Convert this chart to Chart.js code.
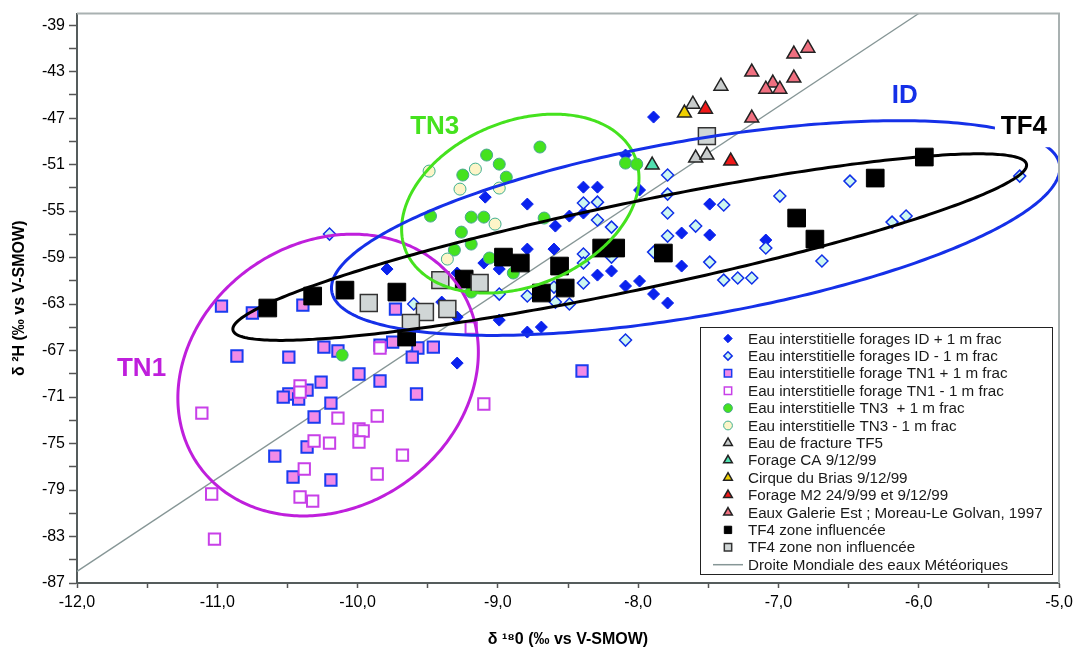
<!DOCTYPE html>
<html>
<head>
<meta charset="utf-8">
<title>δ2H / δ18O</title>
<script src="https://cdn.jsdelivr.net/npm/chart.js@4.4.1/dist/chart.umd.min.js"></script>
<style>
    html, body { margin: 0; padding: 0; background: #fff; }
</style>
</head>
<body>
<canvas id="myChart" width="1075" height="650"></canvas>
<script>
// axis ticks
var xMajorTicks = [-12, -11, -10, -9, -8, -7, -6, -5]
var xTickLabels = ['-12,0', '-11,0', '-10,0', '-9,0', '-8,0', '-7,0', '-6,0', '-5,0']
var yMajorTicks = [-87, -83, -79, -75, -71, -67, -63, -59, -55, -51, -47, -43, -39]
var yTickLabels = ['-87', '-83', '-79', '-75', '-71', '-67', '-63', '-59', '-55', '-51', '-47', '-43', '-39']

// series values [d18O, d2H]
var idPlus = [
    [-7.89, -46.91], [-8.09, -50.18], [-8.39, -52.94], [-8.29, -52.94], [-9.09, -53.80], [-8.79, -54.40], [-7.99, -53.19],
    [-8.59, -56.29], [-8.49, -55.43], [-8.39, -55.17], [-8.79, -58.27], [-8.60, -58.27], [-9.10, -59.47], [-8.99, -59.99],
    [-9.79, -59.99], [-9.29, -60.33], [-8.29, -60.51], [-8.19, -60.16], [-8.09, -61.45], [-7.99, -61.02], [-7.89, -62.14],
    [-7.79, -62.91], [-7.49, -54.40], [-7.69, -56.89], [-7.49, -57.06], [-7.09, -57.49], [-7.69, -59.73], [-9.40, -62.83],
    [-9.29, -64.12], [-8.99, -64.38], [-8.79, -65.41], [-8.69, -64.98], [-9.29, -68.08]
]
var idMinus = [
    [-10.20, -56.98], [-7.79, -51.90], [-7.79, -53.54], [-7.79, -55.17], [-8.39, -54.31], [-8.29, -54.23], [-8.29, -55.77],
    [-8.19, -56.38], [-7.59, -56.29], [-7.79, -57.15], [-7.39, -54.48], [-6.99, -53.71], [-6.49, -52.42], [-5.28, -51.99],
    [-6.19, -55.95], [-6.09, -55.43], [-7.09, -58.18], [-7.49, -59.39], [-7.39, -60.94], [-7.29, -60.76], [-7.19, -60.76],
    [-6.69, -59.30], [-8.39, -58.70], [-8.39, -59.47], [-8.19, -58.96], [-7.89, -58.53], [-8.39, -61.19], [-8.60, -61.54],
    [-8.59, -62.83], [-8.49, -63.00], [-8.99, -62.14], [-8.79, -62.31], [-9.60, -63.00], [-8.09, -66.10]
]
var tn1Plus = [
    [-10.97, -63.17], [-10.75, -63.77], [-10.39, -63.09], [-9.73, -63.43], [-10.86, -67.47], [-10.49, -67.56], [-10.24, -66.70],
    [-10.14, -67.04], [-9.84, -66.53], [-9.75, -66.27], [-9.57, -66.78], [-9.46, -66.70], [-9.61, -67.56], [-9.99, -69.02],
    [-9.84, -69.62], [-10.26, -69.71], [-9.58, -70.74], [-10.36, -70.40], [-10.49, -70.74], [-10.53, -71.00], [-10.42, -71.17],
    [-10.19, -71.52], [-10.31, -72.72], [-10.36, -75.30], [-10.59, -76.08], [-10.46, -77.88], [-10.19, -78.14], [-8.40, -68.76]
]
var tn1Minus = [
    [-9.84, -66.78], [-10.41, -70.05], [-10.41, -70.57], [-11.11, -72.38], [-10.14, -72.81], [-9.86, -72.63], [-9.99, -73.75],
    [-9.96, -73.92], [-9.99, -74.87], [-10.20, -74.96], [-10.31, -74.78], [-9.68, -75.99], [-10.38, -77.19], [-9.86, -77.62],
    [-11.04, -79.34], [-10.41, -79.60], [-10.32, -79.95], [-11.02, -83.22], [-9.19, -65.06], [-9.10, -71.60]
]
var tn3Plus = [
    [-8.70, -49.49], [-9.08, -50.18], [-8.99, -50.96], [-9.25, -51.90], [-8.94, -52.08], [-9.48, -55.43], [-9.19, -55.52],
    [-9.10, -55.52], [-8.67, -55.60], [-9.26, -56.81], [-9.19, -57.84], [-9.31, -58.35], [-9.06, -59.04], [-8.89, -60.33],
    [-8.09, -50.87], [-8.01, -50.96], [-10.11, -67.39], [-9.19, -61.97]
]
var tn3Minus = [[-9.49, -51.56], [-9.16, -51.39], [-9.27, -53.11], [-8.99, -53.02], [-9.02, -56.12], [-9.36, -59.13]]
var tf5 = [[-7.41, -44.25], [-7.61, -45.80], [-7.59, -50.44], [-7.51, -50.18]]
var forageCA = [[-7.90, -51.04]]
var cirqueBrias = [[-7.67, -46.57]]
var forageM2 = [[-7.52, -46.23], [-7.34, -50.70]]
var galerieEst = [
    [-6.79, -40.98], [-6.89, -41.49], [-7.19, -43.04], [-6.89, -43.56], [-7.04, -43.99], [-7.09, -44.51], [-6.99, -44.51], [-7.19, -47.00]
]
var tf4Infl = [
    [-10.64, -63.34], [-10.32, -62.31], [-10.09, -61.80], [-9.72, -61.97], [-9.65, -65.84], [-9.24, -60.85], [-8.96, -58.96],
    [-8.84, -59.47], [-8.69, -62.05], [-8.56, -59.73], [-8.52, -61.62], [-8.26, -58.18], [-8.16, -58.18], [-7.82, -58.61],
    [-6.87, -55.60], [-6.74, -57.41], [-6.31, -52.16], [-5.96, -50.35]
]
var tf4NonInfl = [[-9.92, -62.91], [-9.41, -60.94], [-9.13, -61.19], [-9.52, -63.69], [-9.36, -63.43], [-9.62, -64.63], [-7.51, -48.55]]
// droite mondiale des eaux meteoriques, end points
var mwl = [[-12, -86], [-6, -38]]

// hand drawn groups (centre + two conjugate half axes, in data units)
var ellipses = [
    { name: 'TN1', cx: -10.21, cy: -69.11, ux: 1.071, uy: 1.978, vx: 0, vy: 11.96, color: '#bf1fdc' },
    { name: 'TN3', cx: -8.84, cy: -54.36, ux: 0.846, uy: 2.194, vx: 0, vy: 7.38, color: '#45e21e' },
    { name: 'ID', cx: -7.59, cy: -56.46, ux: 2.596, uy: 5.161, vx: 0, vy: 7.66, color: '#1530e8' },
    { name: 'TF4', cx: -8.06, cy: -58.10, ux: 2.829, uy: 7.054, vx: 0, vy: 3.83, color: '#000000' }
]
var groupLabels = [
    { text: 'TN1', x: -11.54, y: -68.5, color: '#bf1fdc' },
    { text: 'TN3', x: -9.45, y: -47.7, color: '#45e21e' },
    { text: 'ID', x: -6.10, y: -45.0, color: '#1530e8' },
    { text: 'TF4', x: -5.25, y: -47.7, color: '#000000', box: true }
]

var FONT = '"Liberation Sans", Arial, sans-serif'

var series = [
    { label: 'Eau interstitielle forages ID + 1 m frac', data: idPlus, style: 'rectRot', r: 6, bg: '#0a22ee', bc: '#0a22ee', bw: 1, lr: 4.2 },
    { label: 'Eau interstitielle forages ID - 1 m frac', data: idMinus, style: 'rectRot', r: 6, bg: '#cdf7f0', bc: '#1030e8', bw: 1.5, lr: 4.2 },
    { label: 'Eau interstitielle forage TN1 + 1 m frac', data: tn1Plus, style: 'rect', r: 8, bg: '#f28be6', bc: '#1a3cf0', bw: 2, lr: 5.2 },
    { label: 'Eau interstitielle forage TN1 - 1 m frac', data: tn1Minus, style: 'rect', r: 8, bg: '#ffffff', bc: '#c840e8', bw: 2, lr: 5.2 },
    { label: 'Eau interstitielle TN3  + 1 m frac', data: tn3Plus, style: 'circle', r: 6, bg: '#45e21e', bc: '#4aa890', bw: 1, lr: 4.4 },
    { label: 'Eau interstitielle TN3 - 1 m frac', data: tn3Minus, style: 'circle', r: 6, bg: '#fdf5c8', bc: '#40b090', bw: 1, lr: 4.4 },
    { label: 'Eau de fracture TF5', data: tf5, style: 'triangle', r: 8, bg: '#c8cccc', bc: '#222222', bw: 1.5, lr: 5 },
    { label: 'Forage CA 9/12/99', data: forageCA, style: 'triangle', r: 8, bg: '#50e0b0', bc: '#222222', bw: 1.5, lr: 5 },
    { label: 'Cirque du Brias 9/12/99', data: cirqueBrias, style: 'triangle', r: 8, bg: '#f0d000', bc: '#222222', bw: 1.5, lr: 5 },
    { label: 'Forage M2 24/9/99 et 9/12/99', data: forageM2, style: 'triangle', r: 8, bg: '#f01818', bc: '#222222', bw: 1.5, lr: 5 },
    { label: 'Eaux Galerie Est ; Moreau-Le Golvan, 1997', data: galerieEst, style: 'triangle', r: 8, bg: '#f07080', bc: '#222222', bw: 1.5, lr: 5 },
    { label: 'TF4 zone influencée', data: tf4Infl, style: 'rect', r: 12.5, bg: '#000000', bc: '#000000', bw: 1, lr: 5.2 },
    { label: 'TF4 zone non influencée', data: tf4NonInfl, style: 'rect', r: 12, bg: '#d0d6d6', bc: '#333333', bw: 1.5, lr: 5.2 }
]

function toPoints(arr) {
    return arr.map(function (p) { return { x: p[0], y: p[1] } })
}

function buildDatasets() {
    var ds = series.map(function (s, i) {
        return {
            label: s.label,
            data: toPoints(s.data),
            pointStyle: s.style,
            pointRadius: s.r,
            pointHoverRadius: s.r,
            backgroundColor: s.bg,
            borderColor: s.bc,
            borderWidth: s.bw,
            showLine: false,
            order: series.length - i,
            legendRadius: s.lr
        }
    })
    ds.push({
        label: 'Droite Mondiale des eaux Météoriques',
        data: toPoints(mwl),
        showLine: true,
        pointRadius: 0,
        borderColor: '#869696',
        backgroundColor: '#869696',
        borderWidth: 1.3,
        order: 100,
        isLine: true
    })
    return ds
}

function drawMarker(ctx, style, x, y, r) {
    ctx.beginPath()
    if (style == 'rect') {
        var h = r * Math.SQRT1_2
        ctx.rect(x - h, y - h, 2 * h, 2 * h)
    } else if (style == 'rectRot') {
        ctx.moveTo(x, y - r); ctx.lineTo(x + r, y); ctx.lineTo(x, y + r); ctx.lineTo(x - r, y)
        ctx.closePath()
    } else if (style == 'circle') {
        ctx.arc(x, y, r, 0, Math.PI * 2)
    } else if (style == 'triangle') {
        var s = Math.sin(Math.PI / 3) * r
        ctx.moveTo(x, y - r); ctx.lineTo(x + s, y + r / 2); ctx.lineTo(x - s, y + r / 2)
        ctx.closePath()
    }
    ctx.fill()
    ctx.stroke()
}

var extrasPlugin = {
    id: 'extras',
    beforeDraw: function (chart) {
        var ctx = chart.ctx
        ctx.save()
        ctx.fillStyle = '#ffffff'
        ctx.fillRect(0, 0, chart.width, chart.height)
        ctx.restore()
    },
    afterDatasetsDraw: function (chart) {
        var ctx = chart.ctx
        var ca = chart.chartArea
        var xs = chart.scales.x, ys = chart.scales.y

        // group ellipses
        ctx.save()
        ctx.beginPath()
        ctx.rect(ca.left, ca.top, ca.right - ca.left, ca.bottom - ca.top)
        ctx.clip()
        ctx.lineWidth = 3
        ellipses.forEach(function (e) {
            ctx.strokeStyle = e.color
            ctx.beginPath()
            for (var k = 0; k <= 360; k++) {
                var t = k * Math.PI / 180
                var px = xs.getPixelForValue(e.cx + e.ux * Math.cos(t) + e.vx * Math.sin(t))
                var py = ys.getPixelForValue(e.cy + e.uy * Math.cos(t) + e.vy * Math.sin(t))
                if (k == 0) ctx.moveTo(px, py)
                else ctx.lineTo(px, py)
            }
            ctx.closePath()
            ctx.stroke()
        })
        ctx.restore()

        // group labels
        ctx.save()
        ctx.font = 'bold 26px ' + FONT
        ctx.textAlign = 'center'
        ctx.textBaseline = 'middle'
        groupLabels.forEach(function (l) {
            var px = xs.getPixelForValue(l.x), py = ys.getPixelForValue(l.y)
            if (l.box) {
                ctx.fillStyle = '#ffffff'
                ctx.fillRect(px - 29, py - 17, 57, 38)
            }
            ctx.fillStyle = l.color
            ctx.fillText(l.text, px, py + 1)
        })
        ctx.restore()
    },
    afterDraw: function (chart) {
        var ctx = chart.ctx
        var ca = chart.chartArea

        // top and right frame of the plot area
        ctx.save()
        ctx.strokeStyle = '#a9b1b1'
        ctx.lineWidth = 2
        ctx.beginPath()
        ctx.moveTo(ca.left, ca.top)
        ctx.lineTo(ca.right, ca.top)
        ctx.lineTo(ca.right, ca.bottom)
        ctx.stroke()
        ctx.restore()

        // legend box
        var box = { left: ca.right - 359, right: ca.right - 7, bottom: ca.bottom - 9 }
        box.top = box.bottom - 247
        ctx.save()
        ctx.fillStyle = '#ffffff'
        ctx.fillRect(box.left, box.top, box.right - box.left, box.bottom - box.top)
        ctx.strokeStyle = '#222222'
        ctx.lineWidth = 1
        ctx.strokeRect(box.left + 0.5, box.top + 0.5, box.right - box.left, box.bottom - box.top)
        ctx.font = '15.2px ' + FONT
        ctx.textBaseline = 'middle'
        ctx.textAlign = 'left'
        var mx = box.left + 28
        chart.data.datasets.forEach(function (d, i) {
            var y = box.top + 11.5 + i * 17.4
            if (d.isLine) {
                ctx.strokeStyle = d.borderColor
                ctx.lineWidth = 1.5
                ctx.beginPath()
                ctx.moveTo(mx - 15, y)
                ctx.lineTo(mx + 15, y)
                ctx.stroke()
            } else {
                ctx.fillStyle = d.backgroundColor
                ctx.strokeStyle = d.borderColor
                ctx.lineWidth = Math.min(d.borderWidth, 1.5)
                drawMarker(ctx, d.pointStyle, mx, y, d.legendRadius)
            }
            ctx.fillStyle = '#1a1a1a'
            ctx.fillText(d.label, box.left + 48, y + 1)
        })
        ctx.restore()
    }
}

function Graphic() {
    var ctx = document.getElementById('myChart')
    new Chart(ctx, {
        type: 'scatter',
        data: { datasets: buildDatasets() },
        plugins: [extrasPlugin],
        options: {
            responsive: false,
            animation: false,
            events: [],
            layout: { padding: { left: 0, top: 13, right: 16, bottom: 0 } },
            plugins: { legend: { display: false }, tooltip: { enabled: false } },
            scales: {
                x: {
                    type: 'linear',
                    min: -12,
                    max: -5,
                    afterBuildTicks: function (axis) {
                        var t = []
                        xMajorTicks.forEach(function (v) {
                            t.push({ value: v })
                            if (v + 0.5 < -5 + 0.01) t.push({ value: v + 0.5 })
                        })
                        axis.ticks = t
                    },
                    afterFit: function (axis) {
                        axis.height = 67
                        axis.paddingLeft = 0
                        axis.paddingRight = 0
                    },
                    ticks: {
                        autoSkip: false,
                        maxRotation: 0,
                        padding: 5,
                        color: '#000',
                        font: { family: FONT, size: 16 },
                        callback: function (value) {
                            var i = xMajorTicks.indexOf(value)
                            return i >= 0 ? xTickLabels[i] : ''
                        }
                    },
                    grid: { drawOnChartArea: false, drawTicks: true, tickLength: 5, tickColor: '#555', tickWidth: 1.5 },
                    border: { display: true, color: '#555c5c', width: 2 },
                    title: {
                        display: true,
                        text: 'δ ¹⁸0 (‰ vs V-SMOW)',
                        color: '#000',
                        font: { family: FONT, size: 16, weight: 'bold' },
                        padding: { top: 0, bottom: 1 }
                    }
                },
                y: {
                    type: 'linear',
                    min: -87,
                    max: -38,
                    afterBuildTicks: function (axis) {
                        var t = []
                        yMajorTicks.forEach(function (v) {
                            t.push({ value: v })
                            if (v + 2 <= -38) t.push({ value: v + 2 })
                        })
                        axis.ticks = t
                    },
                    afterFit: function (axis) {
                        axis.width = 77
                        axis.paddingTop = 0
                        axis.paddingBottom = 0
                    },
                    ticks: {
                        autoSkip: false,
                        padding: 4,
                        color: '#000',
                        font: { family: FONT, size: 16 },
                        callback: function (value) {
                            var i = yMajorTicks.indexOf(value)
                            return i >= 0 ? yTickLabels[i] : ''
                        }
                    },
                    grid: { drawOnChartArea: false, drawTicks: true, tickLength: 8, tickColor: '#555', tickWidth: 1.5 },
                    border: { display: true, color: '#555c5c', width: 2 },
                    title: {
                        display: true,
                        text: 'δ ²H (‰ vs V-SMOW)',
                        color: '#000',
                        font: { family: FONT, size: 16, weight: 'bold' },
                        padding: { top: 10, bottom: 0 }
                    }
                }
            }
        }
    })
}

window.addEventListener('load', Graphic)
</script>
</body>
</html>
